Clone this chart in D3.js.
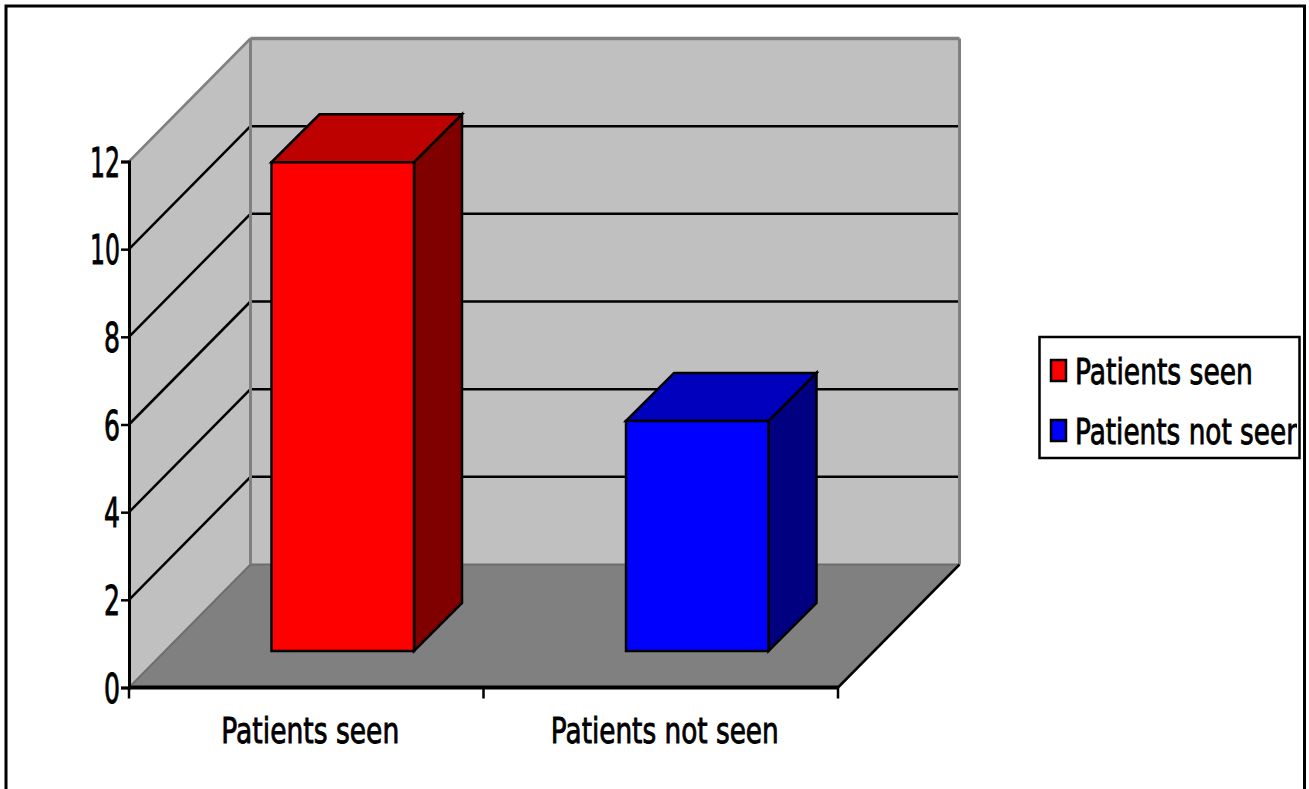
<!DOCTYPE html>
<html>
<head>
<meta charset="utf-8">
<script src="https://cdn.jsdelivr.net/npm/d3@7"></script>
<style>
html, body { margin: 0; padding: 0; background: #fff; overflow: hidden; }
svg { display: block; }
text { font-family: "DejaVu Sans", sans-serif; fill: #000; stroke: #000; stroke-width: 0.9; }
</style>
</head>
<body>
<div id="chart"></div>
<script>
var categories = ["Patients seen", "Patients not seen"];
var values = [11.15, 5.25];
var barColors = ["#ff0000", "#0000ff"];
var barTopColors = ["#bd0000", "#0000bd"];
var barSideColors = ["#800000", "#000080"];
var yTicks = [0, 2, 4, 6, 8, 10, 12];

var width = 1309, height = 789;

var svg = d3.select("#chart").append("svg")
	.attr("width", width)
	.attr("height", height);

// front plane of the 3d box
var x = d3.scaleBand().domain(categories).range([129, 838]);
var y = d3.scaleLinear().domain([0, 12]).range([687.5, 161.5]);

// shift to the back wall
var depthX = 121.5, depthY = -123;
var barDepth = 48, barInset = 36.5, barWidth = 142.5;

var line = d3.line();

function poly(points, fill, stroke, sw) {
	svg.append("path")
		.attr("d", line(points) + "Z")
		.attr("fill", fill)
		.attr("stroke", stroke || "none")
		.attr("stroke-width", sw || 0)
		.attr("stroke-linejoin", "miter");
}

function seg(x1, y1, x2, y2, color, sw) {
	svg.append("line")
		.attr("x1", x1).attr("y1", y1)
		.attr("x2", x2).attr("y2", y2)
		.attr("stroke", color)
		.attr("stroke-width", sw);
}

// squeeze a label to the narrow width it has in the picture
function label(parent, s, tx, ty, size, w, anchor) {
	var t = parent.append("text")
		.attr("font-size", size)
		.attr("text-anchor", anchor || "start")
		.text(s);
	var sx = w / t.node().getComputedTextLength();
	t.attr("transform", "translate(" + tx + "," + ty + ") scale(" + sx + ",1)");
	return t;
}

//outer frame
svg.append("rect")
	.attr("x", 6).attr("y", 6)
	.attr("width", 1298.5).attr("height", 800)
	.attr("fill", "#fff")
	.attr("stroke", "#000")
	.attr("stroke-width", 3);

var x0 = x.range()[0], x1 = x.range()[1];
var y0 = y(0), yTop = y(12);

//walls and floor
poly([[x0, y0], [x0, yTop], [x0 + depthX, yTop + depthY], [x0 + depthX, y0 + depthY]], "#c0c0c0");
poly([[x0 + depthX, y0 + depthY], [x0 + depthX, yTop + depthY], [x1 + depthX, yTop + depthY], [x1 + depthX, y0 + depthY]], "#c0c0c0");
poly([[x0, y0], [x0 + depthX, y0 + depthY], [x1 + depthX, y0 + depthY], [x1, y0]], "#808080");

//grid lines
yTicks.forEach(function(t) {
	if (t == 0 || t == 12) return;
	seg(x0, y(t), x0 + depthX, y(t) + depthY, "#000", 2.5);
	seg(x0 + depthX, y(t) + depthY, x1 + depthX, y(t) + depthY, "#000", 2.5);
});

//wall edges
seg(x0 + depthX, yTop + depthY, x1 + depthX, yTop + depthY, "#808080", 3.5);
seg(x0, yTop, x0 + depthX, yTop + depthY, "#808080", 2.5);
seg(x0 + depthX, yTop + depthY, x0 + depthX, y0 + depthY, "#808080", 3);
seg(x1 + depthX, yTop + depthY, x1 + depthX, y0 + depthY, "#808080", 3);
seg(x0 + depthX, y0 + depthY, x1 + depthX, y0 + depthY, "#6e6e6e", 2);
seg(x0, y0, x0 + depthX, y0 + depthY, "#6e6e6e", 2);
seg(x1, y0, x1 + depthX, y0 + depthY, "#000", 2.5);

//bars
categories.forEach(function(c, i) {
	var left = x(c) + x.bandwidth() / 2 + barInset - barWidth / 2;
	var right = left + barWidth;
	var bottom = y(0) - barInset;
	var top = bottom - (y(0) - y(values[i]));
	poly([[right, top], [right + barDepth, top - barDepth], [right + barDepth, bottom - barDepth], [right, bottom]], barSideColors[i], "#000", 2.5);
	poly([[left, top], [left + barDepth, top - barDepth], [right + barDepth, top - barDepth], [right, top]], barTopColors[i], "#000", 2.5);
	poly([[left, top], [right, top], [right, bottom], [left, bottom]], barColors[i], "#000", 2.5);
});

//axes
var yAxis = d3.axisLeft(y).tickValues(yTicks).tickSize(8).tickFormat("");
var gy = svg.append("g").attr("transform", "translate(" + x0 + ",0)").call(yAxis);
gy.select(".domain").attr("stroke", "#000").attr("stroke-width", 3);
gy.selectAll(".tick line").attr("stroke", "#000").attr("stroke-width", 2.5);

yTicks.forEach(function(t) {
	var s = String(t);
	label(svg, s, 120, y(t) + 15, 40, s.length == 2 ? 30 : 16, "end");
});

seg(x0, y0, x1, y0, "#000", 4);
d3.range(0, categories.length + 1).forEach(function(i) {
	var tx = x0 + i * x.step();
	seg(tx, y0, tx, y0 + 11, "#000", 2.5);
});

//category labels
var labelWidths = [178, 228];
categories.forEach(function(c, i) {
	label(svg, c, x(c) + x.bandwidth() / 2 + 4, 743, 36, labelWidths[i], "middle");
});

//legend
svg.append("rect")
	.attr("x", 1039.5).attr("y", 337)
	.attr("width", 260).attr("height", 121)
	.attr("fill", "#fff")
	.attr("stroke", "#000")
	.attr("stroke-width", 2.5);

// long entry runs into the legend edge, it is cut there
svg.append("clipPath").attr("id", "legend-clip")
	.append("rect")
	.attr("x", 1040).attr("y", 338)
	.attr("width", 257).attr("height", 119);
var legendText = svg.append("g").attr("clip-path", "url(#legend-clip)");

var legendY = [371, 431];
var legendWidths = [178, 228];
categories.forEach(function(c, i) {
	svg.append("rect")
		.attr("x", 1051).attr("y", legendY[i] - 11)
		.attr("width", 15).attr("height", 21)
		.attr("fill", barColors[i])
		.attr("stroke", "#000")
		.attr("stroke-width", 2.5);
	label(legendText, c, 1075, legendY[i] + 13, 36, legendWidths[i]);
});
</script>
</body>
</html>
